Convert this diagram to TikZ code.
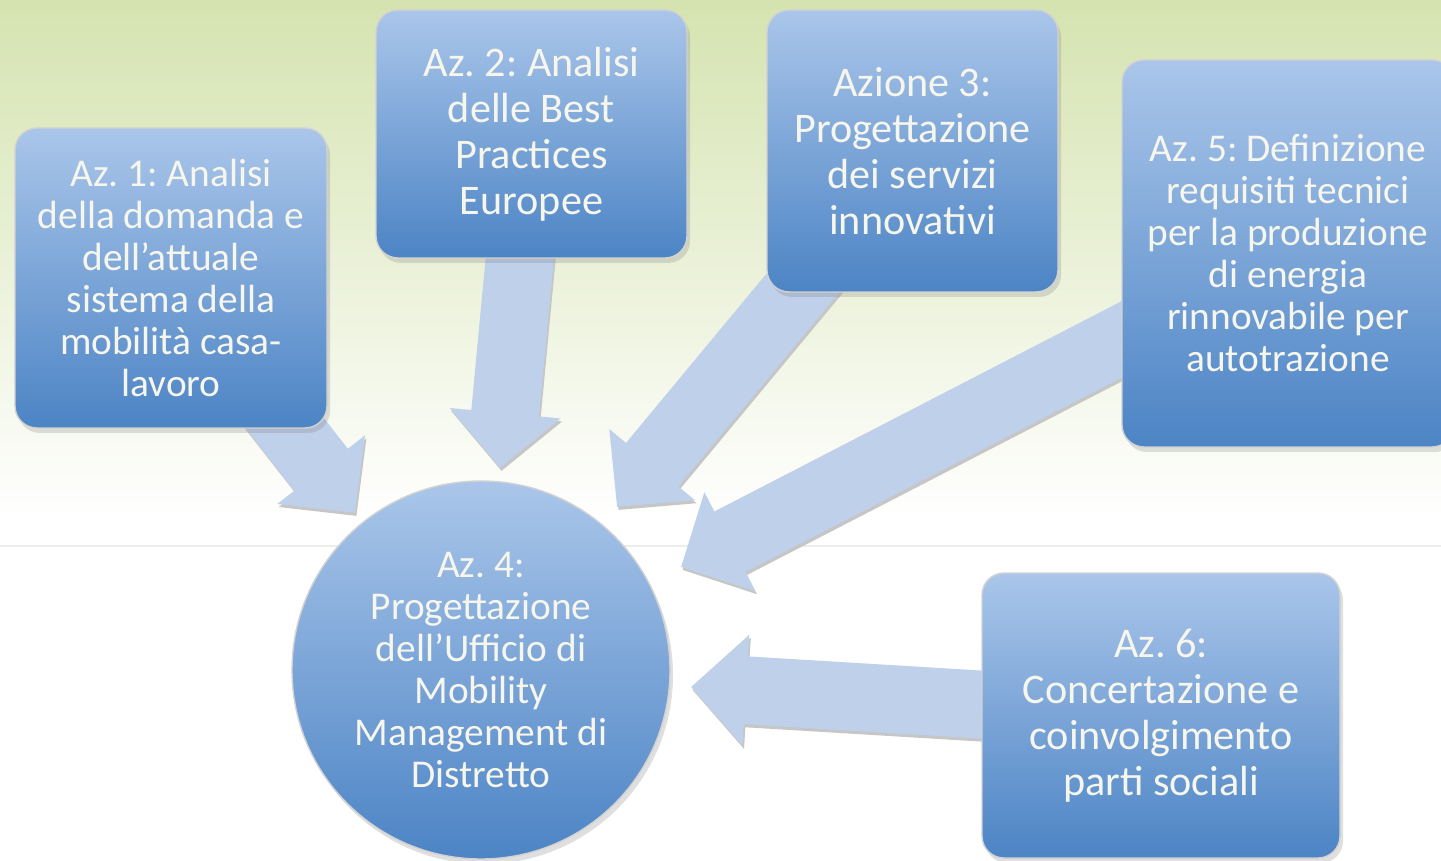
\documentclass[tikz,border=0pt]{standalone}
\usepackage{fontspec}
\setmainfont{Carlito}
\usepackage{tikz}
\usetikzlibrary{arrows.meta,shadows}
\definecolor{boxtop}{RGB}{170,198,234}
\definecolor{boxbottom}{RGB}{76,132,197}
\definecolor{arrowblue}{RGB}{190,208,234}
\definecolor{bggreen}{RGB}{213,227,176}
\definecolor{textwhite}{RGB}{246,246,236}
\pgfdeclarelayer{bg}
\pgfdeclarelayer{arrowlayer}
\pgfsetlayers{bg,arrowlayer,main}
\frenchspacing

\begin{document}
\begin{tikzpicture}[
box_style/.style={rectangle,rounded corners=0.22cm,draw=gray!35,top color=boxtop,bottom color=boxbottom,text=textwhite,align=center,inner sep=0pt,drop shadow={opacity=0.25,shadow xshift=0.03cm,shadow yshift=-0.05cm}},
circle_style/.style={circle,draw=gray!35,top color=boxtop,bottom color=boxbottom,text=textwhite,align=center,inner sep=0pt,minimum size=3.78cm,drop shadow={opacity=0.25,shadow xshift=0.03cm,shadow yshift=-0.05cm}},
big_text/.style={font=\fontsize{12}{13.1}\selectfont},
small_text/.style={font=\fontsize{11.2}{11.95}\selectfont},
arrow_style/.style={draw=arrowblue,line width=0.68cm,-{Triangle[width=1.08cm,length=0.55cm]}},
shadow_style/.style={draw=gray!45,line width=0.68cm,-{Triangle[width=1.08cm,length=0.55cm]},transform canvas={shift={(0.015cm,-0.03cm)}}}]
\useasboundingbox (0,0) rectangle (14.41,8.6);

\begin{pgfonlayer}{bg}
\fill[white] (0,0) rectangle (14.41,8.6);
\shade[top color=bggreen,bottom color=white] (0,3.4) rectangle (14.41,8.6);
\draw[gray!15,line width=0.8pt] (0,3.14) -- (14.41,3.14);
\end{pgfonlayer}

\node[box_style,small_text,minimum width=3.12cm,minimum height=3.00cm] (az1) at (1.71,5.82) {Az. 1: Analisi\\della domanda e\\dell’attuale\\sistema della\\mobilità casa-\\lavoro};
\node[box_style,big_text,minimum width=3.11cm,minimum height=2.48cm] (az2) at (5.315,7.26) {Az. 2: Analisi\\delle Best\\Practices\\Europee};
\node[box_style,big_text,minimum width=2.91cm,minimum height=2.82cm] (az3) at (9.125,7.09) {Azione 3:\\Progettazione\\dei servizi\\innovativi};
\node[box_style,small_text,minimum width=3.32cm,minimum height=3.87cm] (az5) at (12.88,6.065) {Az. 5: Definizione\\requisiti tecnici\\per la produzione\\di energia\\rinnovabile per\\autotrazione};
\node[box_style,big_text,minimum width=3.58cm,minimum height=2.85cm] (az6) at (11.61,1.445) {Az. 6:\\Concertazione e\\coinvolgimento\\parti sociali};
\node[circle_style,small_text] (az4) at (4.81,1.90) {Az. 4:\\Progettazione\\dell’Ufficio di\\Mobility\\Management di\\Distretto};

\coordinate (tip1) at (3.55,3.47);
\coordinate (tip2) at (5.00,3.92);
\coordinate (tip3) at (6.17,3.53);
\coordinate (tip5) at (6.81,2.93);
\coordinate (tip6) at (6.91,1.73);

\begin{pgfonlayer}{arrowlayer}
\foreach \src/\dst in {az1/tip1,az2/tip2,az3/tip3,az5/tip5,az6/tip6} {
  \draw[shadow_style] (\src.center) -- (\dst);
  \draw[arrow_style] (\src.center) -- (\dst);
}
\end{pgfonlayer}
\end{tikzpicture}
\end{document}
